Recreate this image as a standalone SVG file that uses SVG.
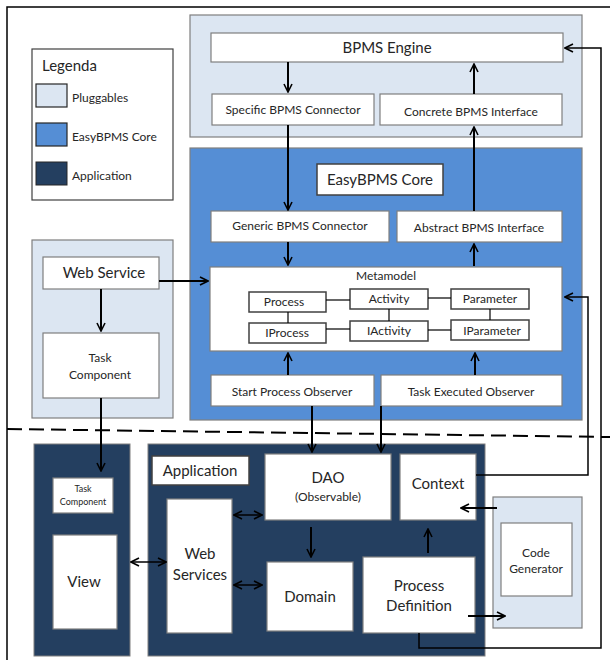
<svg xmlns="http://www.w3.org/2000/svg" width="610" height="660" viewBox="0 0 610 660">
<defs>
<style>
text{font-family:Lato,"Open Sans","Liberation Sans",sans-serif;fill:#262626;text-anchor:middle}
.plug{fill:#dce6f2;stroke:#7f7f7f;stroke-width:1.2}
.core{fill:#558ed5;stroke:#7f7f7f;stroke-width:1.2}
.app{fill:#243f60;stroke:#7f7f7f;stroke-width:1}
.box{fill:#fff;stroke:#7f7f7f;stroke-width:1.2}
.mbox{fill:#fff;stroke:#404040;stroke-width:1.5}
.c{fill:none;stroke:#000;stroke-width:2}
.t{fill:none;stroke:#000;stroke-width:1.5}
.l{fill:none;stroke:#000;stroke-width:1.2}
.s12{font-size:12px}
.s15{font-size:15px}
</style>
<marker id="a" viewBox="0 0 10 10" refX="9" refY="5" markerWidth="10" markerHeight="10" markerUnits="userSpaceOnUse" orient="auto-start-reverse">
<path d="M1,1 L9,5 L1,9" fill="none" stroke="#000" stroke-width="1.6"/>
</marker>
</defs>

<rect x="7" y="7" width="620" height="670" fill="#fff" stroke="#000" stroke-width="1.5"/>

<g id="legend">
<rect x="32" y="49" width="141" height="151" fill="#fff" stroke="#404040" stroke-width="1.2"/>
<text x="42" y="71" style="text-anchor:start;font-size:15px">Legenda</text>
<rect x="36" y="84" width="31" height="23" class="plug" style="stroke:#262626"/>
<text x="72" y="102" class="s12" style="text-anchor:start">Pluggables</text>
<rect x="36" y="123" width="31" height="23" class="core" style="stroke:#262626"/>
<text x="72" y="141" class="s12" style="text-anchor:start">EasyBPMS Core</text>
<rect x="36" y="162" width="31" height="23" class="app" style="stroke:#262626"/>
<text x="72" y="180" class="s12" style="text-anchor:start">Application</text>
</g>

<g id="pluggables-top">
<rect x="190" y="15" width="392" height="122" class="plug"/>
</g>
<g id="bpms-engine">
<rect x="211" y="33" width="352" height="29" class="box"/>
<text x="387" y="53" class="s15">BPMS Engine</text>
</g>
<g id="specific-connector">
<rect x="212" y="94" width="162" height="31" class="box"/>
<text x="293" y="114" class="s12">Specific BPMS Connector</text>
</g>
<g id="concrete-interface">
<rect x="380" y="94" width="182" height="31" class="box"/>
<text x="471" y="116" class="s12">Concrete BPMS Interface</text>
</g>

<g id="easybpms-core">
<rect x="190" y="148" width="392" height="272" class="core"/>
</g>
<g id="core-label">
<rect x="317" y="164" width="126" height="31" class="mbox"/>
<text x="380" y="185" class="s15">EasyBPMS Core</text>
</g>
<g id="generic-connector">
<rect x="211" y="211" width="178" height="31" class="box"/>
<text x="300" y="230" class="s12">Generic BPMS Connector</text>
</g>
<g id="abstract-interface">
<rect x="397" y="211" width="165" height="31" class="box"/>
<text x="479" y="232" class="s12">Abstract BPMS Interface</text>
</g>
<g id="metamodel">
<rect x="210" y="267" width="352" height="84" class="box"/>
<text x="386" y="280" class="s12">Metamodel</text>
</g>
<g id="process"><rect x="249" y="292" width="77" height="20" class="mbox"/><text x="284" y="306" class="s12">Process</text></g>
<g id="activity"><rect x="350" y="289" width="78" height="20" class="mbox"/><text x="389" y="303" class="s12">Activity</text></g>
<g id="parameter"><rect x="451" y="289" width="78" height="20" class="mbox"/><text x="490" y="303" class="s12">Parameter</text></g>
<g id="iprocess"><rect x="249" y="323" width="77" height="20" class="mbox"/><text x="287" y="337" class="s12">IProcess</text></g>
<g id="iactivity"><rect x="350" y="321" width="78" height="20" class="mbox"/><text x="389" y="335" class="s12">IActivity</text></g>
<g id="iparameter"><rect x="451" y="320" width="78" height="20" class="mbox"/><text x="492" y="335" class="s12">IParameter</text></g>
<g id="start-observer">
<rect x="211" y="375" width="163" height="31" class="box"/>
<text x="292" y="396" class="s12">Start Process Observer</text>
</g>
<g id="task-observer">
<rect x="381" y="375" width="181" height="31" class="box"/>
<text x="471" y="396" class="s12">Task Executed Observer</text>
</g>

<g id="pluggables-left">
<rect x="32" y="240" width="141" height="178" class="plug"/>
</g>
<g id="web-service">
<rect x="43" y="257" width="116" height="32" class="box"/>
<text x="104" y="278" class="s15">Web Service</text>
</g>
<g id="task-component">
<rect x="43" y="333" width="116" height="65" class="box"/>
<text x="100" y="362" class="s12">Task</text>
<text x="100" y="379" class="s12">Component</text>
</g>

<g id="client">
<rect x="34" y="444" width="96" height="212" class="app"/>
</g>
<g id="task-component-small">
<rect x="53" y="478" width="60" height="35" class="box"/>
<text x="83" y="492" style="font-size:9px">Task</text>
<text x="83" y="505" style="font-size:9px">Component</text>
</g>
<g id="view">
<rect x="53" y="535" width="64" height="94" class="box"/>
<text x="84" y="587" class="s15">View</text>
</g>

<g id="application">
<rect x="148" y="444" width="337" height="212" class="app"/>
</g>
<g id="application-label">
<rect x="152" y="456" width="97" height="29" class="mbox"/>
<text x="200" y="476" class="s15">Application</text>
</g>
<g id="web-services">
<rect x="167" y="499" width="65" height="134" class="box"/>
<text x="200" y="559" class="s15">Web</text>
<text x="200" y="580" class="s15">Services</text>
</g>
<g id="dao">
<rect x="265" y="454" width="126" height="66" class="box"/>
<text x="328" y="483" class="s15">DAO</text>
<text x="328" y="501" class="s12">(Observable)</text>
</g>
<g id="context">
<rect x="400" y="454" width="76" height="66" class="box"/>
<text x="438" y="489" class="s15">Context</text>
</g>
<g id="domain">
<rect x="267" y="562" width="86" height="69" class="box"/>
<text x="310" y="602" class="s15">Domain</text>
</g>
<g id="process-definition">
<rect x="363" y="557" width="112" height="76" class="box"/>
<text x="419" y="591" class="s15">Process</text>
<text x="419" y="611" class="s15">Definition</text>
</g>

<g id="code-generator-plug">
<rect x="493" y="497" width="89" height="131" class="plug"/>
</g>
<g id="code-generator">
<rect x="501" y="523" width="71" height="73" class="box"/>
<text x="536" y="557" class="s12">Code</text>
<text x="536" y="573" class="s12">Generator</text>
</g>

<g id="connectors">
<line x1="7" y1="429" x2="610" y2="437" stroke="#000" stroke-width="2" stroke-dasharray="15,7"/>
<line x1="288" y1="62" x2="288" y2="92" class="c" marker-end="url(#a)"/>
<line x1="474" y1="94" x2="474" y2="64" class="c" marker-end="url(#a)"/>
<line x1="288" y1="125" x2="288" y2="210" class="c" marker-end="url(#a)"/>
<line x1="474" y1="211" x2="474" y2="127" class="c" marker-end="url(#a)"/>
<line x1="288" y1="242" x2="288" y2="265" class="c" marker-end="url(#a)"/>
<line x1="474" y1="266" x2="474" y2="244" class="c" marker-end="url(#a)"/>
<line x1="288" y1="375" x2="288" y2="353" class="c" marker-end="url(#a)"/>
<line x1="475" y1="375" x2="475" y2="353" class="c" marker-end="url(#a)"/>
<line x1="159" y1="281" x2="208" y2="281" class="c" marker-end="url(#a)"/>
<line x1="101" y1="289" x2="101" y2="331" class="c" marker-end="url(#a)"/>
<line x1="101" y1="398" x2="101" y2="471" class="c" marker-end="url(#a)"/>
<line x1="312" y1="406" x2="312" y2="452" class="c" marker-end="url(#a)"/>
<line x1="381" y1="406" x2="381" y2="452" class="c" marker-end="url(#a)"/>
<line x1="326" y1="300" x2="350" y2="300" class="l"/>
<line x1="428" y1="298" x2="451" y2="298" class="l"/>
<line x1="288" y1="312" x2="288" y2="323" class="l"/>
<line x1="389" y1="309" x2="389" y2="321" class="l"/>
<line x1="490" y1="309" x2="490" y2="320" class="l"/>
<line x1="326" y1="329" x2="350" y2="329" class="l"/>
<line x1="428" y1="330" x2="451" y2="330" class="l"/>
<line x1="131" y1="562" x2="166" y2="562" class="t" marker-start="url(#a)" marker-end="url(#a)"/>
<line x1="234" y1="515" x2="262" y2="515" class="t" marker-start="url(#a)" marker-end="url(#a)"/>
<line x1="234" y1="585" x2="262" y2="585" class="t" marker-start="url(#a)" marker-end="url(#a)"/>
<line x1="311" y1="527" x2="311" y2="557" class="c" marker-end="url(#a)"/>
<line x1="428" y1="553" x2="428" y2="529" class="c" marker-end="url(#a)"/>
<line x1="497" y1="508" x2="461" y2="508" class="c" marker-end="url(#a)"/>
<line x1="468" y1="616" x2="505" y2="616" class="c" marker-end="url(#a)"/>
<polyline points="476,475 588,475 588,297 565,297" class="t" marker-end="url(#a)"/>
<polyline points="419,633 419,648 601,648 601,48 565,48" class="t" marker-end="url(#a)"/>
</g>
</svg>
